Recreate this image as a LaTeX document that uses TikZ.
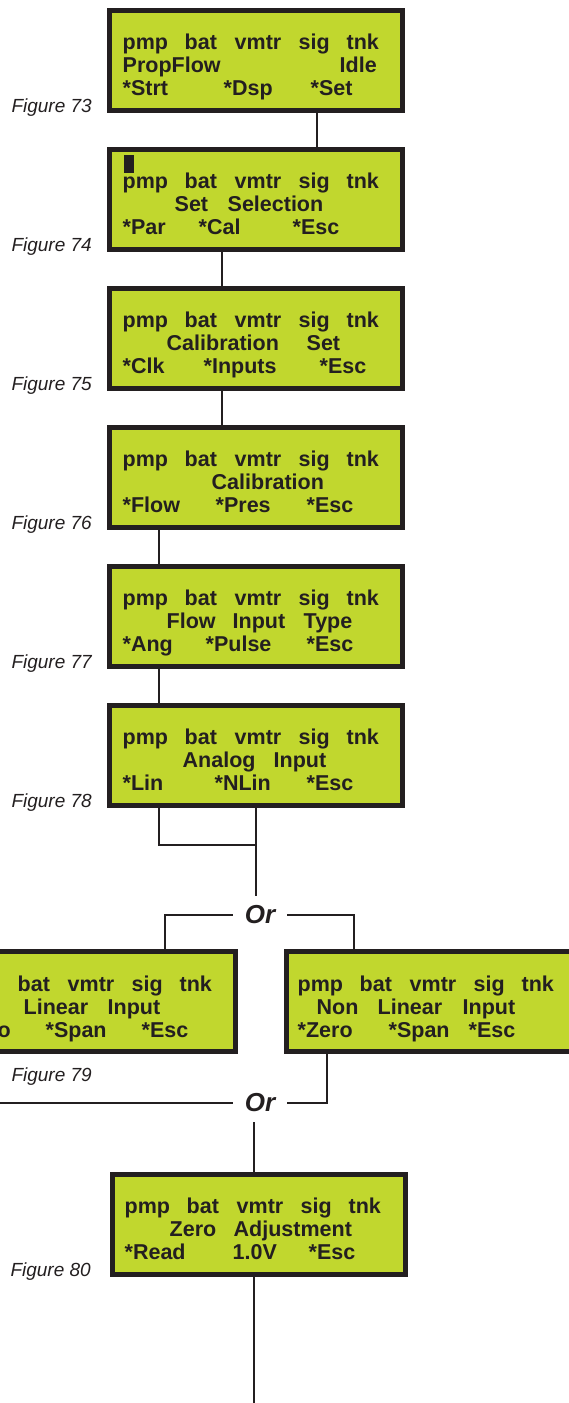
\documentclass[tikz,border=0pt]{standalone}
\usepackage{fontspec}
\setmainfont{Liberation Sans}
\usetikzlibrary{positioning,calc}

\definecolor{lcdgreen}{RGB}{193,215,46}
\definecolor{ink}{RGB}{35,31,32}
% a word set at a fixed offset from the start of its row
\newcommand{\lcdword}[2]{\makebox[0pt][l]{\hspace*{#1pt}#2}}
\newcommand{\lcdtop}{\lcdword{0}{pmp}\lcdword{62}{bat}\lcdword{112}{vmtr}\lcdword{176}{sig}\lcdword{224}{tnk}}

\tikzset{
  lcd/.style={draw=ink, line width=5pt, fill=lcdgreen, rectangle, minimum width=293pt, minimum height=100pt, inner sep=0pt},
  lcdtext/.style={anchor=base west, align=left, inner sep=0pt, text=ink, font=\bfseries\fontsize{21.5}{23}\selectfont},
  figlabel/.style={anchor=base east, inner sep=0pt, text=ink, font=\itshape\fontsize{19}{19}\selectfont},
  ortext/.style={text=ink, font=\bfseries\itshape\fontsize{26}{26}\selectfont, inner xsep=12pt, inner ysep=10pt},
  wire/.style={draw=ink, line width=2pt},
}

\begin{document}
\begin{tikzpicture}[x=1pt, y=-1pt]
    \clip (0,0) rectangle (569,1403);
    % Screens
    \node[lcd] (f73) at (256,60) {};
    \node[lcd] (f74) at (256,199) {};
    \node[lcd] (f75) at (256,338) {};
    \node[lcd] (f76) at (256,477) {};
    \node[lcd] (f77) at (256,616) {};
    \node[lcd] (f78) at (256,755) {};
    \node[lcd] (f79a) at (89,1001.5) {};
    \node[lcd] (f79b) at (433,1001.5) {};
    \node[lcd] (f80) at (258.5,1224) {};

    % Screen texts (anchored on the baseline of the bottom row)
    \node[lcdtext] (t73) at (122,95.5) {\lcdtop\\\lcdword{0}{PropFlow}\lcdword{217}{Idle}\\\lcdword{0}{*Strt}\lcdword{101}{*Dsp}\lcdword{188}{*Set}};
    \node[lcdtext] (t74) at (122,234.5) {\lcdtop\\\lcdword{52}{Set}\lcdword{105}{Selection}\\\lcdword{0}{*Par}\lcdword{76}{*Cal}\lcdword{170}{*Esc}};
    \node[lcdtext] (t75) at (122,373.5) {\lcdtop\\\lcdword{44}{Calibration}\lcdword{184}{Set}\\\lcdword{0}{*Clk}\lcdword{81}{*Inputs}\lcdword{197}{*Esc}};
    \node[lcdtext] (t76) at (122,512.5) {\lcdtop\\\lcdword{89}{Calibration}\\\lcdword{0}{*Flow}\lcdword{93}{*Pres}\lcdword{184}{*Esc}};
    \node[lcdtext] (t77) at (122,651.5) {\lcdtop\\\lcdword{44}{Flow}\lcdword{110}{Input}\lcdword{181}{Type}\\\lcdword{0}{*Ang}\lcdword{83}{*Pulse}\lcdword{184}{*Esc}};
    \node[lcdtext] (t78) at (122,790.5) {\lcdtop\\\lcdword{60}{Analog}\lcdword{151}{Input}\\\lcdword{0}{*Lin}\lcdword{92}{*NLin}\lcdword{184}{*Esc}};
    \node[lcdtext] (t79a) at (-45,1037) {\lcdtop\\\lcdword{68}{Linear}\lcdword{152}{Input}\\\lcdword{0}{*Zero}\lcdword{90}{*Span}\lcdword{186}{*Esc}};
    \node[lcdtext] (t79b) at (297,1037) {\lcdtop\\\lcdword{19}{Non}\lcdword{80}{Linear}\lcdword{165}{Input}\\\lcdword{0}{*Zero}\lcdword{91}{*Span}\lcdword{171}{*Esc}};
    \node[lcdtext] (t80) at (124,1259.5) {\lcdtop\\\lcdword{45}{Zero}\lcdword{109}{Adjustment}\\\lcdword{0}{*Read}\lcdword{108}{1.0V}\lcdword{184}{*Esc}};
    % cursor
    \fill[ink] (124,155) rectangle (134,173);

    % Figure numbers
    \node[figlabel] (l73) at (92,112.5) {Figure 73};
    \node[figlabel] (l74) at (92,251.5) {Figure 74};
    \node[figlabel] (l75) at (92,390.5) {Figure 75};
    \node[figlabel] (l76) at (92,529.5) {Figure 76};
    \node[figlabel] (l77) at (92,668.5) {Figure 77};
    \node[figlabel] (l78) at (92,807.5) {Figure 78};
    \node[figlabel] (l79) at (92,1081) {Figure 79};
    \node[figlabel] (l80) at (91,1276.5) {Figure 80};

    % Or
    \node[ortext] (or1) at (260,915) {Or};
    \node[ortext] (or2) at (260,1103) {Or};

    % Connectors
    \draw[wire] ([xshift=61pt]f73.south) -- ([xshift=61pt]f74.north);
    \draw[wire] ([xshift=-34pt]f74.south) -- ([xshift=-34pt]f75.north);
    \draw[wire] ([xshift=-34pt]f75.south) -- ([xshift=-34pt]f76.north);
    \draw[wire] ([xshift=-97pt]f76.south) -- ([xshift=-97pt]f77.north);
    \draw[wire] ([xshift=-97pt]f77.south) -- ([xshift=-97pt]f78.north);
    \coordinate (join) at (256,845);
    \draw[wire] ([xshift=-97pt]f78.south) |- (join);
    \draw[wire] (f78.south) -- (f78.south |- or1.north);
    \draw[wire] (or1.west) -| ([xshift=76pt]f79a.north);
    \draw[wire] (or1.east) -| ([xshift=-79pt]f79b.north);
    \draw[wire] ([xshift=-106pt]f79b.south) |- (or2.east);
    \coordinate (offleft) at (-10,1103);
    \draw[wire] (or2.west) -- (offleft);
    \draw[wire] ([xshift=-5pt]f80.north) -- ([xshift=-5pt]f80.north |- or2.south);
    \coordinate (offdown) at (253.5,1410);
    \draw[wire] ([xshift=-5pt]f80.south) -- (offdown);
\end{tikzpicture}
\end{document}
